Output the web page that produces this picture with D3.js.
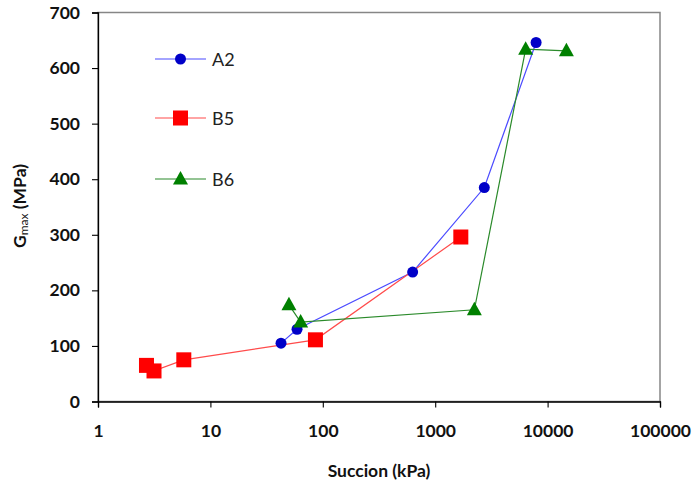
<!DOCTYPE html>
<html><head><meta charset="utf-8">
<script src="https://d3js.org/d3.v7.min.js"></script>
<style>body{margin:0;background:#fff}svg{display:block}</style>
</head><body><svg id="c" width="692" height="481"></svg>
<script>
const seriesNames = ["A2", "B5", "B6"];
const a2X = [42.5, 59, 630, 2735, 7900];
const a2Y = [105, 130, 233, 385, 646];
const b5X = [2.7, 3.15, 5.8, 86, 1690];
const b5Y = [65, 55, 75, 111, 296];
const b6X = [50, 63.5, 2230, 6380, 14700];
const b6Y = [174, 143, 165, 634, 631];
const xTicks = [1, 10, 100, 1000, 10000, 100000];
const yTicks = [0, 100, 200, 300, 400, 500, 600, 700];

const svg = d3.select("#c");
const L = 98, R = 660, T = 12.5, B = 401.5;
const x = d3.scaleLog().domain([1, 100000]).range([L, R]);
const y = d3.scaleLinear().domain([0, 700]).range([B, T]);
const font = "Lato, 'Open Sans', sans-serif";

// plot border
svg.append("rect").attr("x", L).attr("y", T).attr("width", R - L).attr("height", B - T)
  .attr("fill", "none").attr("stroke", "#868686").attr("stroke-width", 1.5);

const yAxis = svg.append("g").attr("transform", `translate(${L},0)`)
  .call(d3.axisLeft(y).tickValues(yTicks).tickSize(6).tickPadding(12).tickFormat(d3.format("d")));
const xAxis = svg.append("g").attr("transform", `translate(0,${B})`)
  .call(d3.axisBottom(x).tickValues(xTicks).tickSize(6).tickPadding(17).tickFormat(d3.format("d")));
[yAxis, xAxis].forEach(g => {
  g.select(".domain").attr("stroke", "#000").attr("stroke-width", 1.3);
  g.selectAll(".tick line").attr("stroke", "#000").attr("stroke-width", 1.1);
  g.selectAll("text").attr("font-family", font).attr("font-weight", "bold")
    .attr("font-size", 17.5).attr("fill", "#111");
});

// axis titles
svg.append("text").attr("x", 379).attr("y", 477).attr("text-anchor", "middle")
  .attr("font-family", font).attr("font-weight", "bold").attr("font-size", 17.5).attr("fill", "#111").text("Succion (kPa)");
const yt = svg.append("text").attr("transform", "translate(26,206) rotate(-90)")
  .attr("text-anchor", "middle").attr("font-family", font).attr("font-weight", "bold").attr("font-size", 17.5).attr("fill", "#111");
yt.append("tspan").text("G");
yt.append("tspan").attr("font-size", 12).attr("font-weight", "normal").attr("dy", 2).text("max");
yt.append("tspan").attr("dy", -2).text(" (MPa)");

const series = [
  {name: seriesNames[0], xs: a2X, ys: a2Y, line: "#4b4bff", fill: "#0000c8", shape: "circle", ly: 59},
  {name: seriesNames[1], xs: b5X, ys: b5Y, line: "#ff4b4b", fill: "#ff0000", shape: "square", ly: 118},
  {name: seriesNames[2], xs: b6X, ys: b6Y, line: "#2a8a2a", fill: "#008000", shape: "triangle", ly: 179}
];

function marker(g, shape, cx, cy, fill) {
  if (shape === "circle") g.append("circle").attr("cx", cx).attr("cy", cy).attr("r", 5.5).attr("fill", fill);
  else if (shape === "square") g.append("rect").attr("x", cx - 7.5).attr("y", cy - 7.5).attr("width", 15).attr("height", 15).attr("fill", fill);
  else g.append("path").attr("d", `M${cx},${cy - 8}L${cx + 7.5},${cy + 5.5}L${cx - 7.5},${cy + 5.5}Z`).attr("fill", fill);
}

const line = d3.line().x(d => x(d[0])).y(d => y(d[1]));
series.forEach(s => {
  const pts = s.xs.map((v, i) => [v, s.ys[i]]);
  svg.append("path").attr("d", line(pts)).attr("fill", "none").attr("stroke", s.line).attr("stroke-width", 1.2);
});
series.forEach(s => {
  const g = svg.append("g");
  s.xs.forEach((v, i) => marker(g, s.shape, x(v), y(s.ys[i]), s.fill));
});

// legend
series.forEach(s => {
  const g = svg.append("g");
  g.append("line").attr("x1", 155).attr("x2", 206).attr("y1", s.ly).attr("y2", s.ly)
    .attr("stroke", s.line).attr("stroke-width", 1.2);
  marker(g, s.shape, 180.5, s.ly, s.fill);
  g.append("text").attr("x", 212).attr("y", s.ly + 6.5).attr("font-family", font)
    .attr("font-size", 18).attr("fill", "#222").text(s.name);
});
</script></body></html>
